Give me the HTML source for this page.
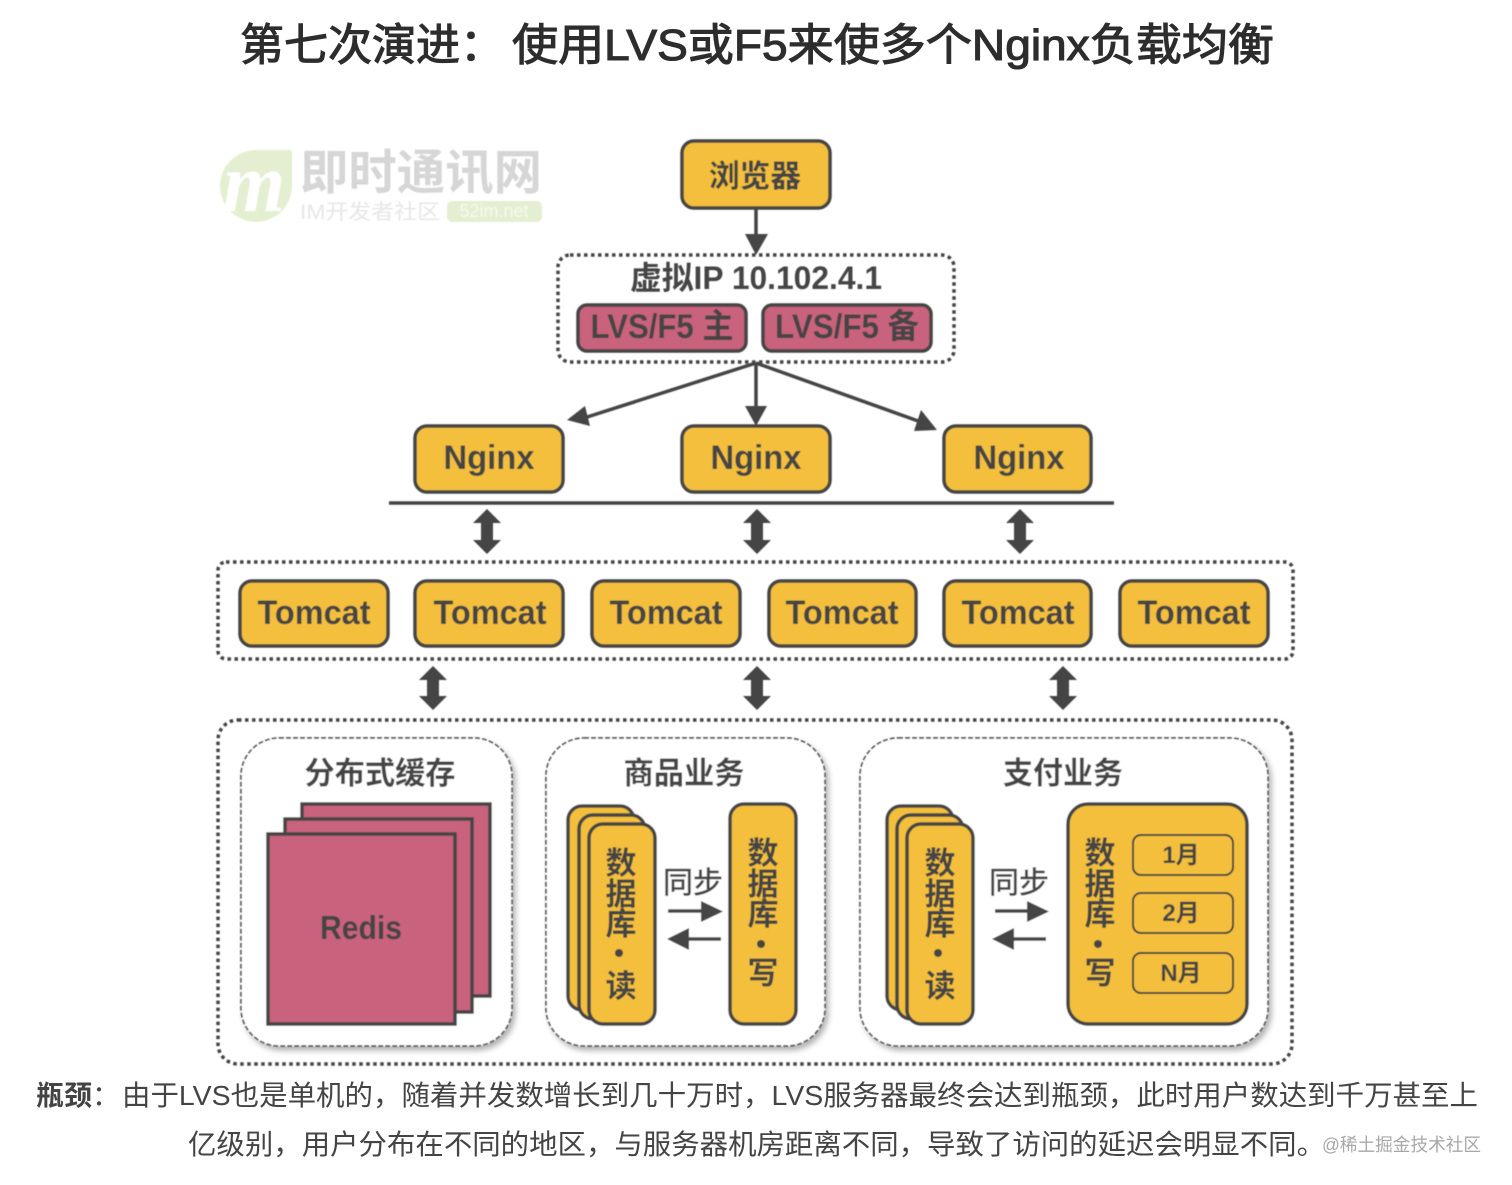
<!DOCTYPE html>
<html lang="zh"><head><meta charset="utf-8"><style>
html,body{margin:0;padding:0;background:#fff;width:1512px;height:1185px;overflow:hidden}
svg{display:block}
text{font-family:"Liberation Sans","Noto Sans CJK SC",sans-serif;fill:#444}
.b{font-weight:700}
.m{text-anchor:middle}
.y{fill:#f3bf3c;stroke:#444;stroke-width:3.5}
.r{fill:#c9627c;stroke:#444;stroke-width:3.5}
.d{fill:none;stroke:#444;stroke-width:3.5;stroke-dasharray:3.5 3.5}
.p{fill:#fff;stroke:#555;stroke-width:1.7;stroke-dasharray:5 2;filter:url(#sh)}
.l{stroke:#444;stroke-width:3.5;fill:none}
.a{fill:#444;stroke:none}
.t{font-size:31px;font-weight:700}
.v{font-size:31px;font-weight:700;text-anchor:middle}
.s{stroke:#444;stroke-width:.6}
.h{fill:#2d2d2d;stroke:#2d2d2d;stroke-width:1.1}
</style></head><body>
<svg width="1512" height="1185" viewBox="0 0 1512 1185" xmlns="http://www.w3.org/2000/svg">
<defs>
<filter id="sh" x="-10%" y="-10%" width="125%" height="125%"><feDropShadow dx="3" dy="4" stdDeviation="3" flood-color="#000" flood-opacity=".3"/></filter>
<filter id="bl"><feGaussianBlur stdDeviation=".6"/></filter>
</defs>

<text class="h" x="240" y="60" font-size="44" textLength="264" lengthAdjust="spacingAndGlyphs">第七次演进：</text>
<text class="h" x="512" y="60" font-size="44" textLength="762" lengthAdjust="spacingAndGlyphs">使用LVS或F5来使多个Nginx负载均衡</text>

<g filter="url(#bl)">
<!-- watermark -->
<path d="M256 150H289Q292 150 292 153V186A36 36 0 0 1 256 222A36 36 0 0 1 220 186A36 36 0 0 1 256 150Z" fill="#e4efd2"/>
<text x="254" y="211" class="m" font-size="84" font-weight="700" font-style="italic" textLength="62" lengthAdjust="spacingAndGlyphs" style="fill:#fff;font-family:'Liberation Serif',serif">m</text>
<text x="300" y="189" font-size="48" font-weight="700" textLength="242" lengthAdjust="spacingAndGlyphs" style="fill:#d6d6d6">即时通讯网</text>
<text x="300" y="219" font-size="21" textLength="140" lengthAdjust="spacingAndGlyphs" style="fill:#e6e6e6">IM开发者社区</text>
<rect x="447" y="201" width="95" height="21" rx="5" fill="#e4efd2"/>
<text x="494" y="217" class="m" font-size="18" style="fill:#f6f9ee">52im.net</text>

<!-- browser -->
<rect class="y" x="682" y="141" width="148" height="67" rx="12"/>
<text x="755" y="187" class="m b" font-size="31" textLength="92" lengthAdjust="spacingAndGlyphs">浏览器</text>
<path class="l" d="M756 208V236"/><path class="a" d="M745 234H768L756 255Z"/>

<!-- virtual IP -->
<rect class="d" x="558" y="255" width="396" height="107" rx="12"/>
<text x="756" y="289" class="m b" font-size="32" textLength="252" lengthAdjust="spacingAndGlyphs">虚拟IP 10.102.4.1</text>
<rect class="r" x="578" y="305" width="168" height="46" rx="9"/>
<rect class="r" x="763" y="305" width="168" height="46" rx="9"/>
<text x="662" y="338" class="m b" font-size="34" textLength="143" lengthAdjust="spacingAndGlyphs">LVS/F5 主</text>
<text x="847" y="338" class="m b" font-size="34" textLength="144" lengthAdjust="spacingAndGlyphs">LVS/F5 备</text>

<!-- fan-out arrows -->
<path class="l" d="M756 363L584 418M756 363V408M756 363L921 422"/>
<path class="a" d="M567 420L585 406L590 426Z"/>
<path class="a" d="M745 406H767L756 426Z"/>
<path class="a" d="M937 430L914 431L921 410Z"/>

<!-- nginx -->
<rect class="y" x="415" y="426" width="148" height="66" rx="12"/>
<rect class="y" x="682" y="426" width="148" height="66" rx="12"/>
<rect class="y" x="944" y="426" width="147" height="66" rx="12"/>
<text x="489" y="469" class="m b" font-size="34" textLength="91" lengthAdjust="spacingAndGlyphs">Nginx</text>
<text x="756" y="469" class="m b" font-size="34" textLength="91" lengthAdjust="spacingAndGlyphs">Nginx</text>
<text x="1019" y="469" class="m b" font-size="34" textLength="91" lengthAdjust="spacingAndGlyphs">Nginx</text>
<path class="l" d="M389 503H1114"/>

<!-- double arrows -->
<path class="a" d="M487 509L501 523H493V540H501L487 554L473 540H481V523H473Z"/>
<path class="a" d="M757 509L771 523H763V540H771L757 554L743 540H751V523H743Z"/>
<path class="a" d="M1020 509L1034 523H1026V540H1034L1020 554L1006 540H1014V523H1006Z"/>
<path class="a" d="M433 666L447 680H439V696H447L433 710L419 696H427V680H419Z"/>
<path class="a" d="M757 666L771 680H763V696H771L757 710L743 696H751V680H743Z"/>
<path class="a" d="M1063 666L1077 680H1069V696H1077L1063 710L1049 696H1057V680H1049Z"/>

<!-- tomcat -->
<rect class="d" x="218" y="562" width="1075" height="97" rx="8"/>
<rect class="y" x="240" y="581" width="148" height="65" rx="12"/>
<rect class="y" x="415" y="581" width="148" height="65" rx="12"/>
<rect class="y" x="592" y="581" width="148" height="65" rx="12"/>
<rect class="y" x="769" y="581" width="147" height="65" rx="12"/>
<rect class="y" x="944" y="581" width="147" height="65" rx="12"/>
<rect class="y" x="1120" y="581" width="148" height="65" rx="12"/>
<text x="314" y="624" class="m b" font-size="34" textLength="113" lengthAdjust="spacingAndGlyphs">Tomcat</text>
<text x="490" y="624" class="m b" font-size="34" textLength="113" lengthAdjust="spacingAndGlyphs">Tomcat</text>
<text x="666" y="624" class="m b" font-size="34" textLength="113" lengthAdjust="spacingAndGlyphs">Tomcat</text>
<text x="842" y="624" class="m b" font-size="34" textLength="113" lengthAdjust="spacingAndGlyphs">Tomcat</text>
<text x="1018" y="624" class="m b" font-size="34" textLength="113" lengthAdjust="spacingAndGlyphs">Tomcat</text>
<text x="1194" y="624" class="m b" font-size="34" textLength="113" lengthAdjust="spacingAndGlyphs">Tomcat</text>

<!-- outer storage -->
<rect class="d" x="218" y="720" width="1074" height="344" rx="20"/>
<rect class="p" x="241" y="738" width="271" height="308" rx="38"/>
<rect class="p" x="546" y="738" width="279" height="308" rx="38"/>
<rect class="p" x="860" y="738" width="408" height="308" rx="38"/>
<text x="380" y="784" class="m t" textLength="151" lengthAdjust="spacingAndGlyphs">分布式缓存</text>
<text x="684" y="784" class="m t" textLength="121" lengthAdjust="spacingAndGlyphs">商品业务</text>
<text x="1063" y="784" class="m t" textLength="120" lengthAdjust="spacingAndGlyphs">支付业务</text>

<!-- redis -->
<rect class="r" x="302" y="804" width="188" height="192"/>
<rect class="r" x="285" y="819" width="187" height="193"/>
<rect class="r" x="268" y="834" width="187" height="190"/>
<text x="361" y="939" class="m b" font-size="33" textLength="82" lengthAdjust="spacingAndGlyphs">Redis</text>

<!-- goods db -->
<rect class="y" x="568" y="806" width="66" height="204" rx="14"/>
<rect class="y" x="579" y="815" width="66" height="204" rx="14"/>
<rect class="y" x="589" y="824" width="66" height="200" rx="14"/>
<text class="v" x="621" y="874">数</text><text class="v" x="621" y="905">据</text><text class="v" x="621" y="935">库</text><circle class="a" cx="619" cy="953" r="4"/><text class="v" x="621" y="997">读</text>
<rect class="y" x="730" y="804" width="66" height="220" rx="14"/>
<text class="v" x="763" y="864">数</text><text class="v" x="763" y="895">据</text><text class="v" x="763" y="925">库</text><circle class="a" cx="761" cy="944" r="4"/><text class="v" x="763" y="984">写</text>
<text x="693" y="893" class="m s" font-size="30" textLength="60" lengthAdjust="spacingAndGlyphs">同步</text>
<path class="l" d="M668 911H702M688 939H721"/>
<path class="a" d="M701 901L723 911.500L701 922Z"/><path class="a" d="M689 928L667 939L689 950Z"/>

<!-- pay db -->
<rect class="y" x="887" y="806" width="66" height="204" rx="14"/>
<rect class="y" x="897" y="815" width="66" height="204" rx="14"/>
<rect class="y" x="907" y="824" width="66" height="200" rx="14"/>
<text class="v" x="940" y="874">数</text><text class="v" x="940" y="905">据</text><text class="v" x="940" y="935">库</text><circle class="a" cx="938" cy="953" r="4"/><text class="v" x="940" y="997">读</text>
<rect class="y" x="1068" y="804" width="179" height="220" rx="20"/>
<text class="v" x="1100" y="864">数</text><text class="v" x="1100" y="895">据</text><text class="v" x="1100" y="925">库</text><circle class="a" cx="1098" cy="944" r="4"/><text class="v" x="1100" y="984">写</text>
<rect x="1133" y="835" width="100" height="40" rx="8" fill="#f3bf3c" stroke="#444" stroke-width="2"/>
<rect x="1133" y="893" width="100" height="40" rx="8" fill="#f3bf3c" stroke="#444" stroke-width="2"/>
<rect x="1133" y="953" width="100" height="40" rx="8" fill="#f3bf3c" stroke="#444" stroke-width="2"/>
<text x="1181" y="863" class="m b" font-size="24">1月</text>
<text x="1181" y="921" class="m b" font-size="24">2月</text>
<text x="1181" y="981" class="m b" font-size="24">N月</text>
<text x="1019" y="893" class="m s" font-size="30" textLength="60" lengthAdjust="spacingAndGlyphs">同步</text>
<path class="l" d="M995 911H1028M1014 939H1046"/>
<path class="a" d="M1027 901L1049 911.500L1027 922Z"/><path class="a" d="M1014 928L992 939L1014 950Z"/>
</g>

<!-- caption -->
<text x="36" y="1105" font-size="28" font-weight="700" textLength="56" lengthAdjust="spacingAndGlyphs">瓶颈</text>
<text x="92" y="1105" font-size="28">：</text>
<text x="122" y="1105" font-size="28" textLength="1356" lengthAdjust="spacingAndGlyphs">由于LVS也是单机的，随着并发数增长到几十万时，LVS服务器最终会达到瓶颈，此时用户数达到千万甚至上</text>
<text x="188" y="1154" font-size="28" textLength="1137" lengthAdjust="spacingAndGlyphs">亿级别，用户分布在不同的地区，与服务器机房距离不同，导致了访问的延迟会明显不同。</text>
<text x="1322" y="1151" font-size="18" textLength="159" lengthAdjust="spacingAndGlyphs" style="fill:#a8a8a8">@稀土掘金技术社区</text>
</svg>
</body></html>
